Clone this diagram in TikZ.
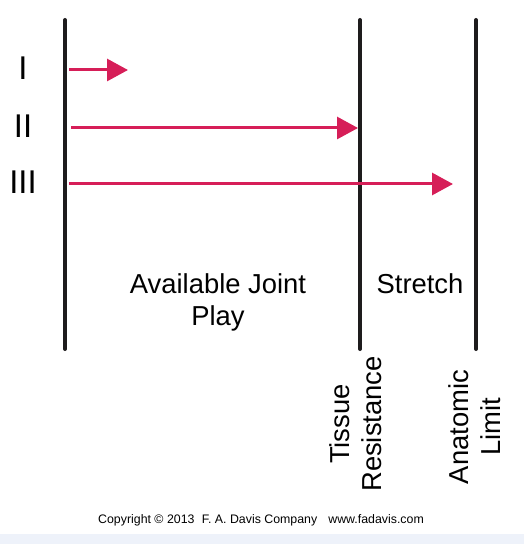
\documentclass[tikz,border=0pt]{standalone}
\usepackage{fontspec}
\setmainfont{Liberation Sans}
\usetikzlibrary{arrows.meta}

\definecolor{barblack}{RGB}{30,28,29}
\definecolor{arrowred}{RGB}{214,30,88}
\definecolor{stripblue}{RGB}{238,242,250}

\tikzset{
  bar/.style={barblack, line width=4bp, line cap=round},
  glide/.style={arrowred, line width=3bp, -{Triangle[length=21bp,width=22bp]}},
  grade/.style={anchor=base, font=\fontsize{33}{36}\selectfont},
  zone/.style={font=\fontsize{27.5}{32}\selectfont, align=center},
}

\begin{document}
\begin{tikzpicture}[x=1bp,y=-1bp]
        \useasboundingbox (0,0) rectangle (524,544);
        % 底部浅色条
        \fill[stripblue] (0,534) rectangle (524,544);

        % 三条竖线
        \coordinate (startTop) at (65,20);   \coordinate (startBot) at (65,349);
        \coordinate (tissueTop) at (360,20); \coordinate (tissueBot) at (360,349);
        \coordinate (limitTop) at (476,20);  \coordinate (limitBot) at (476,349);
        \draw[bar] (startTop) -- (startBot);
        \draw[bar] (tissueTop) -- (tissueBot);
        \draw[bar] (limitTop) -- (limitBot);

        % 箭头
        \coordinate (oneFrom) at (69,70);    \coordinate (oneTo) at (128,70);
        \coordinate (twoFrom) at (71,128);   \coordinate (twoTo) at (358,128);
        \coordinate (threeFrom) at (69,184); \coordinate (threeTo) at (453,184);
        \draw[glide] (oneFrom) -- (oneTo);
        \draw[glide] (twoFrom) -- (twoTo);
        \draw[glide] (threeFrom) -- (threeTo);

        % 添加标签
        \node[grade] (gradeOne) at (23,80) {I};
        \node[grade] (gradeTwo) at (23,138) {II};
        \node[grade] (gradeThree) at (23,194) {III};
        \node[zone] (play) at (218,302) {Available Joint\\Play};
        \node[zone, anchor=base] (stretch) at (420,293) {Stretch};
        \node[zone, rotate=90] (tissue) at (356,424) {Tissue\\Resistance};
        \node[zone, rotate=90] (anatomic) at (475,427) {Anatomic\\Limit};
        \node[anchor=base, font=\fontsize{12.4}{14}\selectfont] (copyright) at (261,523)
          {Copyright \textcopyright\ 2013\hspace{0.6em}F. A. Davis Company\hspace{0.9em}www.fadavis.com};
    \end{tikzpicture}
\end{document}
